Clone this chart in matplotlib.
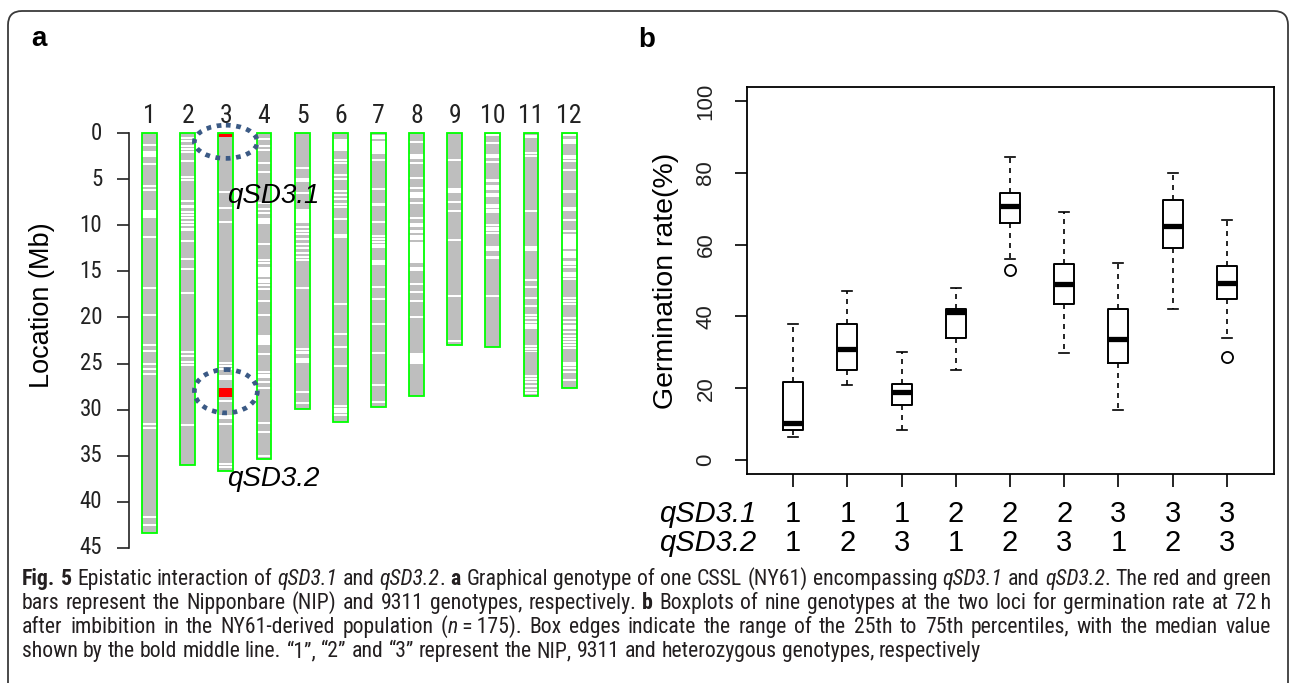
import re
import matplotlib
matplotlib.use('Agg')
import matplotlib.pyplot as plt
from matplotlib.patches import Rectangle, Ellipse, FancyBboxPatch
from matplotlib.transforms import IdentityTransform, blended_transform_factory
from matplotlib import font_manager as fm

# ---------------- data ----------------
chrom_names = ['1', '2', '3', '4', '5', '6', '7', '8', '9', '10', '11', '12']
chrom_lengths = [43.4, 36.0, 36.6, 35.4, 29.9, 31.3, 29.7, 28.5, 23.0, 23.2, 28.5, 27.6]

# white (non-marker) bands in each chromosome, Mb; float = thin band, tuple = block
white_chr1 = [1.25, (2.0, 2.6), 3.35, 5.75, 6.2, (8.35, 9.25), 11.25, 16.85, 19.75, 22.95, 23.65,
              25.1, 25.6, 26.1, 31.6, 32.0, 41.6, 42.5]
white_chr2 = [0.5, 0.85, 1.4, 1.75, 2.05, 3.0, 4.8, 5.1, 7.4, (7.8, 8.1), 8.55, 8.9, 9.2, 9.6, 10.0,
              (10.35, 10.6), 11.75, 13.7, 14.7, 17.4, 23.75, 24.15, 24.8, 25.2, 31.7]
white_chr3 = [6.4, 8.15, 9.6, 24.9, 25.25, 25.6, (26.2, 26.8), 29.1, (30.6, 31.0), 31.6, 35.9, 36.25]
white_chr4 = [0.6, 1.4, 1.85, (3.1, 3.4), 4.2, 7.6, 8.2, 8.7, (9.25, 9.9), 12.0, 13.8, 14.1, (14.5, 15.6),
              15.9, 16.2, 16.5, 16.9, 18.2, 19.7, (21.9, 23.0), 24.0, 25.9, 26.2, 26.5, 27.0, 27.7,
              31.4, 32.4, 35.0]
white_chr5 = [3.8, (4.9, 5.35), 6.5, (8.2, 9.8), 10.2, 10.6, 11.0, 11.5, 12.0, 12.5, 13.0, 13.4, 13.8,
              16.8, 23.4, 23.8, (24.4, 24.9), 28.05, 29.3]
white_chr6 = [(0.7, 2.0), 2.9, 3.3, 4.5, 5.0, 6.3, 6.7, 7.2, 7.7, 8.0, 9.3, (10.9, 11.4), 18.5, 21.8,
              23.2, 25.3, 29.6, 29.9, 30.2, 30.6]
white_chr7 = [(0.2, 0.65), (0.85, 2.3), 2.9, 6.1, (7.6, 7.9), 9.6, 11.2, 11.5, 11.8, 12.1, 12.4,
              (13.8, 14.3), 16.7, 17.95, 20.75, 23.9, 27.3, 29.2]
white_chr8 = [0.95, (2.3, 2.8), 3.3, 4.9, 6.0, (6.4, 7.1), 7.55, 9.25, (9.8, 10.2), (10.5, 10.8),
              (11.1, 11.6), (11.8, 14.1), (14.5, 15.0), 16.4, 17.2, 18.2, 20.0, (23.9, 25.0)]
white_chr9 = [2.9, (6.0, 6.5), 7.45, 8.45, 11.55, 17.65, 22.6]
white_chr10 = [0.2, 1.05, 2.4, 2.65, 3.15, (5.0, 5.35), 5.8, 6.1, (6.5, 6.9), 7.8, 8.05, (8.25, 8.7),
               9.95, 10.3, 10.55, 10.8, (12.3, 12.8), 13.5, 17.65]
white_chr11 = [(0.2, 0.5), 2.15, 2.45, 8.45, (12.3, 12.8), (15.8, 16.1), 16.65, 17.9, 18.8, 19.75, 20.1,
               20.5, (20.75, 21.3), 23.1, 23.4, (23.6, 23.8), 26.3, 26.7, 27.0, 27.4, 27.9, 28.2]
white_chr12 = [0.2, (0.65, 1.2), 2.45, 2.75, 3.05, 4.0, (6.2, 6.5), (8.0, 8.5), 9.4, 10.6, (10.9, 12.6),
               (12.8, 13.5), 14.0, 14.25, 14.5, 15.2, 15.45, 15.8, 17.9, 18.2, 18.5, 20.1, 20.5,
               (20.8, 21.2), 21.6, 22.0, 22.3, 22.7, 23.0, 23.35, 24.9, 25.2, 25.5, 25.9, 26.8]
white_bands = [white_chr1, white_chr2, white_chr3, white_chr4, white_chr5, white_chr6,
               white_chr7, white_chr8, white_chr9, white_chr10, white_chr11, white_chr12]

nip_chrom = 3
nip_segments = [(0.1, 0.45), (27.6, 28.65)]
qtl_names = ['qSD3.1', 'qSD3.2']
qtl_centers = [0.95, 28.0]
qtl_heights = [3.6, 4.7]
qtl_label_y = [6.85, 37.5]

# panel b: boxplot statistics (germination rate, %)
genotype_q1 = ['1', '1', '1', '2', '2', '2', '3', '3', '3']
genotype_q2 = ['1', '2', '3', '1', '2', '3', '1', '2', '3']
whisker_low = [6.4, 21.0, 8.4, 25.1, 56.0, 29.9, 14.0, 42.0, 33.9]
quart_low = [8.4, 25.0, 15.4, 33.9, 66.0, 43.5, 27.0, 59.1, 44.8]
medians = [10.4, 30.9, 19.0, 41.1, 70.8, 49.0, 33.8, 65.1, 49.3]
quart_high = [21.6, 38.0, 21.2, 42.0, 74.4, 54.6, 42.0, 72.4, 54.0]
whisker_high = [38.0, 47.2, 30.0, 48.0, 84.5, 69.0, 55.0, 79.9, 66.9]
outliers = [[], [], [], [], [53.0], [], [], [], [28.7]]
y_ticks_b = [0, 20, 40, 60, 80, 100]
y_ticks_a = [0, 5, 10, 15, 20, 25, 30, 35, 40, 45]

caption_lines = [
    "{b:Fig.} {b:5} Epistatic interaction of {i:qSD3.1} and {i:qSD3.2}. {b:a} Graphical genotype of one CSSL (NY61) encompassing {i:qSD3.1} and {i:qSD3.2}. The red and green",
    "bars represent the Nipponbare (NIP) and 9311 genotypes, respectively. {b:b} Boxplots of nine genotypes at the two loci for germination rate at 72\u2009h",
    "after imbibition in the NY61-derived population ({i:n}\u2009=\u2009175). Box edges indicate the range of the 25th to 75th percentiles, with the median value",
    "shown by the bold middle line. \u201c1\u201d, \u201c2\u201d and \u201c3\u201d represent the NIP, 9311 and heterozygous genotypes, respectively",
]

# ---------------- fonts ----------------
names = {f.name for f in fm.fontManager.ttflist}


def pick(cands):
    for c in cands:
        if c in names:
            return c
    return 'DejaVu Sans'


MAIN = pick(['Liberation Sans', 'Arimo', 'Roboto'])
NARROW = pick(['Roboto Condensed', 'Archivo Narrow', 'PT Sans Narrow'])
CAPF = pick(['Roboto Condensed', 'PT Sans Narrow', 'Archivo Narrow'])
plt.rcParams['font.family'] = [MAIN, 'DejaVu Sans']

W, H = 1290, 683
fig = plt.figure(figsize=(W / 100, H / 100), dpi=100)


def fx(px):
    return px / W


def fy(py):
    return 1 - py / H


# outer frame
frame = FancyBboxPatch((8, -40), 1280, H - 11 + 40, boxstyle="round,pad=0,rounding_size=14",
                       transform=IdentityTransform(), fill=False, edgecolor='#3a3a3a', lw=1.3)
fig.add_artist(frame)

# ---------------- panel a ----------------
ax_a = fig.add_axes([fx(129), fy(557.2), fx(463), 433.4 / H])
ax_a.set_xlim(0.46, 12.6)
ax_a.set_ylim(46, -1)
for s in ['top', 'right', 'bottom']:
    ax_a.spines[s].set_visible(False)
ax_a.spines['left'].set_bounds(0, 45)
ax_a.spines['left'].set_linewidth(1.2)
ax_a.spines['left'].set_color('#222222')
ax_a.set_xticks([])
ax_a.set_yticks(y_ticks_a)
ax_a.tick_params(axis='y', length=9, width=1.2, color='#222222', labelleft=False)
for v in y_ticks_a:
    ax_a.text(-0.058, v, str(v), transform=ax_a.get_yaxis_transform(), ha='right', va='center',
              fontsize=16.5, family=[NARROW, 'DejaVu Sans'], color='#222222')

bar_w = 0.39
thin = 0.22
for i, (name, L, bands) in enumerate(zip(chrom_names, chrom_lengths, white_bands)):
    x = i + 1
    ax_a.add_patch(Rectangle((x - bar_w / 2, 0), bar_w, L, facecolor='#bebebe', edgecolor='none'))
    for b in bands:
        if isinstance(b, tuple):
            y0, y1 = b
        else:
            y0, y1 = b - thin / 2, b + thin / 2
        ax_a.add_patch(Rectangle((x - bar_w / 2, y0), bar_w, y1 - y0, facecolor='white', edgecolor='none'))
    if x == nip_chrom:
        for (y0, y1) in nip_segments:
            ax_a.add_patch(Rectangle((x - bar_w / 2, y0), bar_w, y1 - y0, facecolor='#ff0000', edgecolor='none'))
    ax_a.add_patch(Rectangle((x - bar_w / 2, 0), bar_w, L, facecolor='none', edgecolor='#00ff00', lw=1.3))
    ax_a.text(x, -1.9, name, ha='center', va='center', fontsize=18.5, family=[NARROW, 'DejaVu Sans'],
              color='#222222', clip_on=False)

for name, c, h, ly in zip(qtl_names, qtl_centers, qtl_heights, qtl_label_y):
    e = Ellipse((nip_chrom, c), 1.65, h, fill=False, edgecolor='#3b5a85', lw=3.4,
                linestyle=(0, (1.0, 1.2)), clip_on=False)
    e.set_capstyle('butt')
    ax_a.add_patch(e)
    ax_a.text(nip_chrom + 0.02, ly, name, style='italic', fontsize=20, ha='left', va='center', clip_on=False)

fig.text(fx(42), fy(305), 'Location (Mb)', rotation=90, ha='center', va='center', fontsize=19.5)
fig.text(fx(31), fy(46.5), 'a', fontweight='bold', fontsize=20, ha='left', va='baseline')

# ---------------- panel b ----------------
ax_b = fig.add_axes([fx(746.5), fy(474.4), fx(527), 387.8 / H])
stats = []
for lo, q1, m, q3, hi, fl in zip(whisker_low, quart_low, medians, quart_high, whisker_high, outliers):
    stats.append(dict(whislo=lo, q1=q1, med=m, q3=q3, whishi=hi, fliers=fl))
positions = list(range(1, len(stats) + 1))
ax_b.bxp(stats, positions=positions, widths=0.37, capwidths=0.185, showfliers=True,
         boxprops=dict(lw=1.4, color='black'),
         medianprops=dict(lw=3.8, color='black', solid_capstyle='butt'),
         whiskerprops=dict(lw=1.2, color='black', linestyle=(0, (3, 3))),
         capprops=dict(lw=1.2, color='black'),
         flierprops=dict(marker='o', markerfacecolor='none', markeredgecolor='black', markersize=8,
                         markeredgewidth=1.3))
ax_b.set_xlim(0.14, 9.86)
ax_b.set_ylim(-4, 104)
for s in ax_b.spines.values():
    s.set_linewidth(1.3)
ax_b.set_xticks(positions)
ax_b.set_yticks(y_ticks_b)
ax_b.tick_params(axis='both', length=9, width=1.2, labelleft=False, labelbottom=False)
for v in y_ticks_b:
    ax_b.text(-0.077, v, str(v), transform=ax_b.get_yaxis_transform(), ha='center', va='center',
              rotation=90, fontsize=16, color='#222222')
ax_b.text(-0.153, 0.5, 'Germination rate(%)', transform=ax_b.transAxes, rotation=90,
          ha='center', va='center', fontsize=20.5)

bt = blended_transform_factory(ax_b.transData, fig.transFigure)
for row_y, lab, vals in [(514, qtl_names[0], genotype_q1), (543, qtl_names[1], genotype_q2)]:
    fig.text(fx(756), fy(row_y), lab, style='italic', fontsize=21, ha='right', va='center')
    for p, v in zip(positions, vals):
        ax_b.text(p, fy(row_y), v, transform=bt, fontsize=21, ha='center', va='center')

fig.text(fx(638), fy(47), 'b', fontweight='bold', fontsize=20, ha='left', va='baseline')

# ---------------- caption ----------------
renderer = fig.canvas.get_renderer()
cap_color = '#231f20'
x0, x1 = 22, 1271
baselines = [585, 609, 633, 657]


def parse_word(w):
    pieces = []
    for style, t, plain in re.findall(r'\{([ib]):([^}]*)\}|([^{]+)', w):
        if plain:
            pieces.append(('r', plain))
        else:
            pieces.append((style, t))
    return pieces


def make_text(txt, style, x, y, size):
    kw = dict(fontsize=size, color=cap_color, ha='left', va='baseline',
              family=[CAPF, 'DejaVu Sans'], transform=IdentityTransform())
    if style == 'b':
        kw['fontweight'] = 'bold'
    if style == 'i':
        kw['style'] = 'italic'
    return fig.text(x, y, txt, **kw)


def layout_line(line, ypix, size):
    words = line.split(' ')
    word_arts, widths = [], []
    for w in words:
        arts, wsum = [], 0
        for style, t in parse_word(w):
            a = make_text(t, style, 0, ypix, size)
            bw = a.get_window_extent(renderer).width
            arts.append((a, bw))
            wsum += bw
        word_arts.append(arts)
        widths.append(wsum)
    sp = make_text('a a', 'r', 0, ypix, size)
    nsp = make_text('aa', 'r', 0, ypix, size)
    space_w = sp.get_window_extent(renderer).width - nsp.get_window_extent(renderer).width
    sp.remove()
    nsp.remove()
    return words, word_arts, widths, space_w


# find a size at which the justified lines fit with roughly normal word spacing
base_size = 12.0
nat = []
for line in caption_lines[:3]:
    words, arts, widths, sw = layout_line(line, -100, base_size)
    nat.append(sum(widths) + sw * (len(words) - 1))
    for aa in arts:
        for a, _ in aa:
            a.remove()
cap_size = base_size * (x1 - x0) / max(nat) * 0.995

for li, (line, base) in enumerate(zip(caption_lines, baselines)):
    ypix = H - base
    words, word_arts, widths, space_w = layout_line(line, ypix, cap_size)
    if li < len(caption_lines) - 1 and len(words) > 1:
        gap = (x1 - x0 - sum(widths)) / (len(words) - 1)
    else:
        gap = space_w
    x = x0
    for arts, wsum in zip(word_arts, widths):
        xx = x
        for a, bw in arts:
            a.set_x(xx)
            xx += bw
        x += wsum + gap

fig.savefig('out.png', dpi=100)
